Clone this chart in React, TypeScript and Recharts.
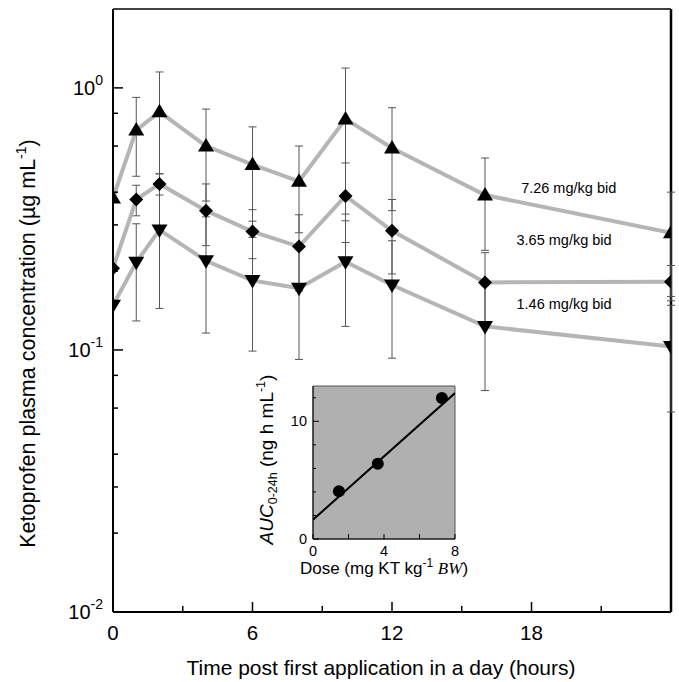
import React from 'react';
import {
  ComposedChart,
  Line,
  Scatter,
  XAxis,
  YAxis,
  ErrorBar,
  ReferenceLine,
  ReferenceArea,
  ReferenceDot,
} from 'recharts';

// main panel: plasma concentration (µg/mL) over 24 h, three doses
const hours = [0, 1, 2, 4, 6, 8, 10, 12, 16, 24];
const conc726 = [0.38, 0.69, 0.81, 0.6, 0.51, 0.44, 0.76, 0.59, 0.39, 0.28];
const sd726 = [null, 0.23, 0.34, 0.23, 0.2, 0.16, 0.43, 0.25, 0.15, 0.12];
const conc365 = [0.205, 0.375, 0.43, 0.34, 0.283, 0.248, 0.387, 0.285, 0.181, 0.182];
const sd365 = [null, 0.05, 0.04, 0.09, 0.06, 0.08, 0.13, 0.09, 0.054, 0.028];
const conc146 = [0.148, 0.216, 0.287, 0.219, 0.184, 0.172, 0.217, 0.177, 0.123, 0.103];
const sd146 = [null, 0.087, 0.143, 0.103, 0.085, 0.08, 0.094, 0.084, 0.053, 0.045];

const doseLabels = ['7.26 mg/kg bid', '3.65 mg/kg bid', '1.46 mg/kg bid'];
const doseLabelHour = [19.6, 19.4, 19.4];
const doseLabelConc = [0.415, 0.263, 0.15];

const hourTicks = [0, 3, 6, 9, 12, 15, 18, 21, 24];
const hourLabels = [0, 6, 12, 18];
const concTicks = [
  0.01, 0.02, 0.03, 0.04, 0.05, 0.06, 0.07, 0.08, 0.09,
  0.1, 0.2, 0.3, 0.4, 0.5, 0.6, 0.7, 0.8, 0.9, 1,
];
const concMajor = [0.01, 0.1, 1];

// inset: AUC vs dose
const aucDose = [1.46, 3.65, 7.26];
const aucValue = [4.05, 6.4, 11.99];
const fitDose = [0, 8];
const fitValue = [1.64, 12.4];
const doseTicks = [0, 2, 4, 6, 8];
const doseTickLabels = [0, 4, 8];
const aucTicks = [0, 1, 2, 3, 4, 5, 6, 7, 8, 9, 10, 11, 12];
const aucTickLabels = [0, 5, 10];

const rows = hours.map((t, i) => ({
  t,
  high: conc726[i],
  highErr: sd726[i],
  mid: conc365[i],
  midErr: sd365[i],
  low: conc146[i],
  lowErr: sd146[i],
}));
const aucRows = aucDose.map((x, i) => ({ x, y: aucValue[i] }));
const fitRows = fitDose.map((x, i) => ({ x, y: fitValue[i] }));

const LINE_GRAY = '#b5b5b5';
const BAR_GRAY = '#555';

const TriUp = (p: any) =>
  p.cx == null ? null : (
    <path key={p.index} d={`M${p.cx},${p.cy - 8}L${p.cx + 8},${p.cy + 5.5}L${p.cx - 8},${p.cy + 5.5}Z`} fill="#000" />
  );
const TriDown = (p: any) =>
  p.cx == null ? null : (
    <path key={p.index} d={`M${p.cx},${p.cy + 8}L${p.cx + 8},${p.cy - 5.5}L${p.cx - 8},${p.cy - 5.5}Z`} fill="#000" />
  );
const Diamond = (p: any) =>
  p.cx == null ? null : (
    <path key={p.index} d={`M${p.cx},${p.cy - 7}L${p.cx + 7},${p.cy}L${p.cx},${p.cy + 7}L${p.cx - 7},${p.cy}Z`} fill="#000" />
  );

function ConcTick({ x, y, payload }: any) {
  const v = payload.value;
  const major = concMajor.includes(v);
  const exp = Math.round(Math.log10(v));
  return (
    <g>
      <line x1={x} x2={x + (major ? 10 : 5)} y1={y} y2={y} stroke="#000" strokeWidth={1.5} />
      {major && (
        <text x={x - 10} y={y + 7} textAnchor="end" fontSize={20} fill="#000">
          10<tspan dy={-10} fontSize={14}>{exp}</tspan>
        </text>
      )}
    </g>
  );
}

function HourTick({ x, y, payload }: any) {
  const major = hourLabels.includes(payload.value);
  return (
    <g>
      <line x1={x} x2={x} y1={y} y2={y - (major || payload.value === 24 ? 10 : 6)} stroke="#000" strokeWidth={1.5} />
      {major && (
        <text x={x} y={y + 28} textAnchor="middle" fontSize={20.5} fill="#000">
          {payload.value}
        </text>
      )}
    </g>
  );
}

function AucTick({ x, y, payload }: any) {
  const major = aucTickLabels.includes(payload.value);
  return (
    <g>
      <line x1={x} x2={x + (major ? 6 : 3)} y1={y} y2={y} stroke="#000" strokeWidth={1} />
      {major && (
        <text x={x - 6} y={y + 5} textAnchor="end" fontSize={14.5} fill="#000">
          {payload.value}
        </text>
      )}
    </g>
  );
}

function DoseTick({ x, y, payload }: any) {
  const major = doseTickLabels.includes(payload.value);
  return (
    <g>
      <line x1={x} x2={x} y1={y} y2={y - 5} stroke="#000" strokeWidth={1} />
      {major && (
        <text x={x} y={y + 17} textAnchor="middle" fontSize={14.5} fill="#000">
          {payload.value}
        </text>
      )}
    </g>
  );
}

const ConcTitle = ({ viewBox }: any) => {
  const cx = viewBox.x + 35;
  const cy = viewBox.y + viewBox.height / 2 + 33;
  return (
    <text x={cx} y={cy} transform={`rotate(-90 ${cx} ${cy})`} textAnchor="middle" fontSize={21.5} fill="#000">
      Ketoprofen plasma concentration (µg mL<tspan dy={-9} fontSize={14}>-1</tspan>
      <tspan dy={9}>)</tspan>
    </text>
  );
};

const HourTitle = ({ viewBox }: any) => (
  <text x={viewBox.x + viewBox.width / 2 - 11} y={viewBox.y + 63} textAnchor="middle" fontSize={21} fill="#000">
    Time post first application in a day (hours)
  </text>
);

const AucTitle = ({ viewBox }: any) => {
  const cx = viewBox.x + 23;
  const cy = viewBox.y + viewBox.height / 2 - 3;
  return (
    <text x={cx} y={cy} transform={`rotate(-90 ${cx} ${cy})`} textAnchor="middle" fontSize={19} fill="#000">
      <tspan fontStyle="italic">AUC</tspan>
      <tspan fontSize={12.5} dy={4}>0-24h</tspan>
      <tspan dy={-4}> (ng h mL</tspan>
      <tspan fontSize={12.5} dy={-8}>-1</tspan>
      <tspan dy={8}>)</tspan>
    </text>
  );
};

const DoseTitle = ({ viewBox }: any) => (
  <text x={viewBox.x + viewBox.width / 2} y={viewBox.y + 35} textAnchor="middle" fontSize={17} fill="#000">
    Dose (mg KT kg<tspan fontSize={12} dy={-7}>-1</tspan>
    <tspan dy={7}> </tspan>
    <tspan fontStyle="italic" fontFamily="'Liberation Serif', 'Times New Roman', serif">BW</tspan>)
  </text>
);

export default function App() {
  return (
    <div
      style={{
        position: 'relative',
        width: 679,
        height: 682,
        background: '#fff',
        fontFamily: "Arial, 'Liberation Sans', sans-serif",
      }}
    >
      <style>{'body{margin:0}'}</style>
      <ComposedChart width={679} height={682} data={rows} margin={{ top: 9, right: 8, left: 0, bottom: 0 }}>
        <XAxis
          type="number"
          dataKey="t"
          domain={[0, 24]}
          ticks={hourTicks}
          allowDataOverflow
          height={70}
          tickSize={0}
          tickMargin={0}
          tickLine={false}
          tick={<HourTick />}
          axisLine={{ stroke: '#000', strokeWidth: 2 }}
          label={{ content: HourTitle }}
        />
        <YAxis
          type="number"
          scale="log"
          domain={[0.01, 2]}
          ticks={concTicks}
          allowDataOverflow
          width={113}
          tickSize={0}
          tickMargin={0}
          tickLine={false}
          tick={<ConcTick />}
          axisLine={{ stroke: '#000', strokeWidth: 2 }}
          label={{ content: ConcTitle }}
        />
        <ReferenceLine y={2} stroke="#000" strokeWidth={1.5} />
        <ReferenceLine x={24} stroke="#000" strokeWidth={2.5} />
        <Line dataKey="low" stroke={LINE_GRAY} strokeWidth={4} dot={TriDown} isAnimationActive={false}>
          <ErrorBar dataKey="lowErr" width={4} stroke={BAR_GRAY} strokeWidth={1} direction="y" />
        </Line>
        <Line dataKey="mid" stroke={LINE_GRAY} strokeWidth={4} dot={Diamond} isAnimationActive={false}>
          <ErrorBar dataKey="midErr" width={4} stroke={BAR_GRAY} strokeWidth={1} direction="y" />
        </Line>
        <Line dataKey="high" stroke={LINE_GRAY} strokeWidth={4} dot={TriUp} isAnimationActive={false}>
          <ErrorBar dataKey="highErr" width={4} stroke={BAR_GRAY} strokeWidth={1} direction="y" />
        </Line>
        {doseLabels.map((txt, i) => (
          <ReferenceDot
            key={txt}
            x={doseLabelHour[i]}
            y={doseLabelConc[i]}
            r={0}
            fill="none"
            stroke="none"
            label={{ value: txt, position: 'center', fontSize: 14.5, fill: '#000' }}
          />
        ))}
      </ComposedChart>

      <div style={{ position: 'absolute', left: 250, top: 374 }}>
        <ComposedChart width={220} height={211} margin={{ top: 12, right: 15, left: 0, bottom: 0 }}>
          <XAxis
            type="number"
            dataKey="x"
            domain={[0, 8]}
            ticks={doseTicks}
            allowDataOverflow
            height={46}
            tickSize={0}
            tickMargin={0}
            tickLine={false}
            tick={<DoseTick />}
            axisLine={{ stroke: '#000', strokeWidth: 1 }}
            label={{ content: DoseTitle }}
          />
          <YAxis
            type="number"
            dataKey="y"
            domain={[0, 13]}
            ticks={aucTicks}
            allowDataOverflow
            width={63}
            tickSize={0}
            tickMargin={0}
            tickLine={false}
            tick={<AucTick />}
            axisLine={{ stroke: '#000', strokeWidth: 1 }}
            label={{ content: AucTitle }}
          />
          <ReferenceArea x1={0} x2={8} y1={0} y2={13} fill="#b0b0b0" fillOpacity={1} stroke="#555" strokeWidth={1} />
          <Line data={fitRows} dataKey="y" stroke="#000" strokeWidth={2} dot={false} isAnimationActive={false} />
          <Scatter
            data={aucRows}
            dataKey="y"
            isAnimationActive={false}
            shape={(p: any) => <circle cx={p.cx} cy={p.cy} r={6} fill="#000" />}
          />
        </ComposedChart>
      </div>
    </div>
  );
}
